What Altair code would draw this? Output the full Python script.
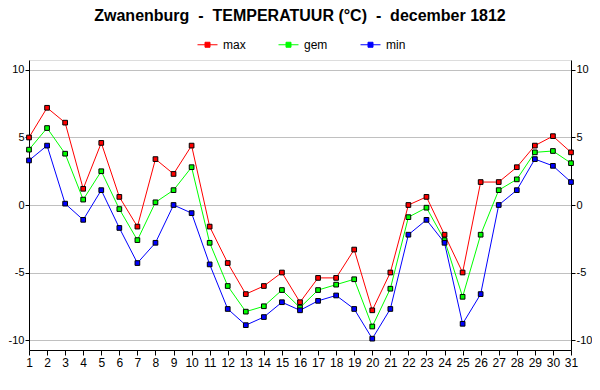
import altair as alt
import pandas as pd

days = list(range(1, 32))
t_max = [5.0, 7.2, 6.1, 1.2, 4.6, 0.6, -1.6, 3.4, 2.3, 4.4,
         -1.6, -4.3, -6.6, -6.0, -5.0, -7.2, -5.4, -5.4, -3.3, -7.8,
         -5.0, 0.0, 0.6, -2.2, -5.0, 1.7, 1.7, 2.8, 4.4, 5.1, 3.9]
t_gem = [4.1, 5.7, 3.8, 0.4, 2.5, -0.3, -2.6, 0.2, 1.1, 2.8,
         -2.8, -6.0, -7.9, -7.5, -6.3, -7.6, -6.3, -5.9, -5.5, -9.0,
         -6.2, -0.9, -0.2, -2.6, -6.8, -2.2, 1.1, 1.9, 3.9, 4.0, 3.1]
t_min = [3.3, 4.4, 0.1, -1.1, 1.1, -1.7, -4.3, -2.8, 0.0, -0.6,
         -4.4, -7.7, -8.9, -8.3, -7.2, -7.8, -7.1, -6.7, -7.7, -9.9,
         -7.7, -2.2, -1.1, -2.8, -8.8, -6.6, 0.0, 1.1, 3.4, 2.9, 1.7]
series = ["max", "gem", "min"]
colors = ["#ff0000", "#00ff00", "#0000ff"]
y_ticks = [-10, -5, 0, 5, 10]

rows = []
for name, vals in zip(series, [t_max, t_gem, t_min]):
    for d, v in zip(days, vals):
        rows.append({"dag": d, "reeks": name, "temp": v})
df = pd.DataFrame(rows)

FONT = "Liberation Sans"
xs = alt.X("dag:Q", scale=alt.Scale(domain=[1, 31], nice=False, zero=False),
           axis=alt.Axis(values=days, title=None, grid=False, labelFontSize=12,
                         tickSize=5, labelPadding=2, domainColor="black",
                         tickColor="black", labelColor="black", labelFlush=False,
                         labelFont=FONT))
yscale = alt.Scale(domain=[-10.74, 10.74], nice=False, zero=False)
label_expr = "replace(datum.label, '\u2212', '-')"
color = alt.Color("reeks:N", scale=alt.Scale(domain=series, range=colors),
                  sort=series,
                  legend=alt.Legend(title=None, orient="none", legendX=168, legendY=-26,
                                    direction="horizontal", padding=0,
                                    symbolType="M-1,0H1M-0.25,-0.25H0.25V0.25H-0.25Z",
                                    symbolSize=400, symbolStrokeWidth=1,
                                    labelFontSize=12, labelFont=FONT,
                                    labelColor="black", labelOffset=5,
                                    columnPadding=30))

base = alt.Chart(df)
lines = base.mark_line(strokeWidth=1).encode(
    x=xs,
    y=alt.Y("temp:Q", scale=yscale,
            axis=alt.Axis(values=y_ticks, orient="left", title=None, grid=True,
                          gridColor="#c0c0c0", labelFontSize=11, tickSize=4,
                          labelPadding=1, labelExpr=label_expr, domainColor="black",
                          tickColor="black", labelColor="black",
                          labelFont=FONT)),
    color=color,
    order="dag:Q",
)
points = base.mark_square(size=22, stroke="black", strokeWidth=1, opacity=1).encode(
    x=xs,
    y=alt.Y("temp:Q", scale=yscale,
            axis=alt.Axis(values=y_ticks, orient="right", title=None, grid=False,
                          labelFontSize=11, tickSize=4, labelPadding=1,
                          labelExpr=label_expr, domainColor="black",
                          tickColor="black", labelColor="black",
                          labelFont=FONT)),
    color=color,
)

chart = alt.layer(lines, points).resolve_axis(y="independent").properties(
    width=542,
    height=290,
    autosize=alt.AutoSizeParams(type="none"),
    padding={"left": 21, "top": 52, "right": 21, "bottom": 20},
    title=alt.TitleParams(
        "Zwanenburg\u00a0\u00a0-\u00a0\u00a0TEMPERATUUR (°C)\u00a0\u00a0-\u00a0\u00a0december 1812",
        fontSize=16, fontWeight="bold", font=FONT, color="black",
        anchor="middle", frame="group", offset=10),
).configure_view(stroke="black", strokeWidth=1).configure(background="white")

chart.save("out.html", embed_options={"renderer": "svg", "actions": False})
